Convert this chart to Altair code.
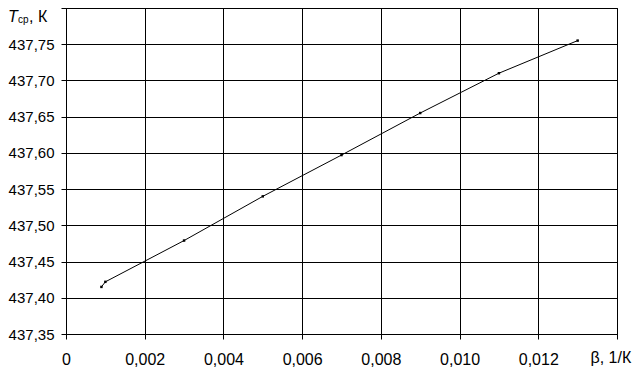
import altair as alt
import pandas as pd

# data
beta = [0.0009, 0.0010, 0.0030, 0.0050, 0.0070, 0.0090, 0.0110, 0.0130]
t_avg = [437.415, 437.422, 437.479, 437.540, 437.597, 437.655, 437.710, 437.755]
x_ticks = [0.0, 0.002, 0.004, 0.006, 0.008, 0.010, 0.012, 0.014]
y_ticks = [437.35, 437.40, 437.45, 437.50, 437.55, 437.60, 437.65, 437.70, 437.75, 437.80]

df = pd.DataFrame({"beta": beta, "t": t_avg})

W, H = 551, 326
FONT = "Liberation Sans"
FS = 15

x_enc = alt.X(
    "beta:Q",
    scale=alt.Scale(domain=[0, 0.014], nice=False, zero=False),
    axis=alt.Axis(
        values=x_ticks,
        tickCount=30,
        labelExpr="datum.value > 0.0135 ? '' : (datum.value == 0 ? '0' : replace(format(datum.value, '.3f'), '.', ','))",
        title="β, 1/К",
        titleX=524,
        titleY=28,
        titleAlign="left",
        titleBaseline="alphabetic",
        titleFont=FONT,
        titleFontSize=16,
        titleFontWeight="normal",
        titleColor="black",
        labelFontSize=16,
        labelPadding=12,
        tickSize=5,
    ),
)
y_enc = alt.Y(
    "t:Q",
    scale=alt.Scale(domain=[437.35, 437.80], nice=False, zero=False),
    axis=alt.Axis(
        values=y_ticks,
        tickCount=30,
        labelExpr="datum.value > 437.79 ? '' : replace(format(datum.value, '.2f'), '.', ',')",
        title="",
        labelPadding=7,
        tickSize=5,
    ),
)

line = alt.Chart(df).mark_line(color="black", strokeWidth=1).encode(x=x_enc, y=y_enc)
pts = alt.Chart(df).mark_square(size=6, color="black", filled=True, opacity=1).encode(x="beta:Q", y="t:Q")

t1 = alt.Chart(pd.DataFrame({"s": ["T"]})).mark_text(
    font=FONT, fontSize=16, fontStyle="italic", align="left", baseline="alphabetic", color="black"
).encode(text="s:N", x=alt.value(-58), y=alt.value(14))
t2 = alt.Chart(pd.DataFrame({"s": ["ср"]})).mark_text(
    font=FONT, fontSize=10, align="left", baseline="alphabetic", color="black"
).encode(text="s:N", x=alt.value(-48), y=alt.value(15))
t3 = alt.Chart(pd.DataFrame({"s": [", К"]})).mark_text(
    font=FONT, fontSize=16, align="left", baseline="alphabetic", color="black"
).encode(text="s:N", x=alt.value(-37), y=alt.value(14))

chart = alt.layer(line, pts, t1, t2, t3).properties(
    width=W,
    height=H,
    autosize=alt.AutoSizeParams(type="none"),
    padding={"left": 58, "top": 0, "right": 15, "bottom": 34},
    background="white",
).configure_axis(
    domainColor="black",
    domainWidth=1,
    tickColor="black",
    tickWidth=1,
    grid=True,
    gridColor="black",
    gridOpacity=1,
    gridWidth=1,
    labelColor="black",
    labelFont=FONT,
    labelFontSize=FS,
    labelOverlap=False,
    labelFlush=False,
).configure_view(
    stroke="black", strokeWidth=1
)

chart.save("out.html", embed_options={"renderer": "svg", "actions": False})
